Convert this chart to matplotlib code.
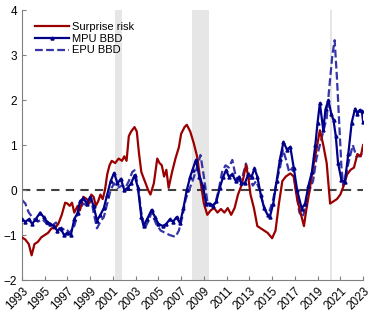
import numpy as np
import matplotlib.pyplot as plt

plt.rcParams["font.family"] = ["Liberation Sans", "DejaVu Sans"]

# ---------- data ----------
sr_t = [1993.0, 1993.3, 1993.6, 1993.85, 1994.1, 1994.4, 1994.7, 1995.0, 1995.3, 1995.6,
        1995.9, 1996.2, 1996.5, 1996.8, 1997.0, 1997.2, 1997.4, 1997.6, 1997.9, 1998.1,
        1998.4, 1998.7, 1998.9, 1999.1, 1999.3, 1999.5, 1999.7, 1999.9, 2000.1, 2000.3,
        2000.5, 2000.7, 2000.9, 2001.2, 2001.5, 2001.8, 2002.0, 2002.2, 2002.4, 2002.6,
        2002.9, 2003.1, 2003.3, 2003.5, 2003.8, 2004.1, 2004.3, 2004.6, 2004.9, 2005.1,
        2005.3, 2005.5, 2005.7, 2005.9, 2006.2, 2006.5, 2006.8, 2007.0, 2007.3, 2007.5,
        2007.8, 2008.1, 2008.4, 2008.7, 2009.0, 2009.3, 2009.6, 2009.9, 2010.2, 2010.5,
        2010.8, 2011.1, 2011.4, 2011.7, 2012.0, 2012.3, 2012.5, 2012.7, 2012.9, 2013.1,
        2013.4, 2013.7, 2014.0, 2014.3, 2014.6, 2015.0, 2015.3, 2015.6, 2015.9, 2016.2,
        2016.6, 2016.9, 2017.2, 2017.5, 2017.8, 2018.0, 2018.3, 2018.6, 2018.9, 2019.2,
        2019.5, 2019.8, 2020.1, 2020.4, 2020.7, 2021.0, 2021.3, 2021.6, 2021.9, 2022.2,
        2022.5, 2022.8, 2023.0]
sr_v = [-1.05, -1.1, -1.2, -1.45, -1.2, -1.15, -1.05, -1.0, -0.95, -0.85,
        -0.85, -0.75, -0.55, -0.28, -0.3, -0.35, -0.28, -0.5, -0.35, -0.45,
        -0.15, -0.2, -0.3, -0.1, -0.15, -0.35, -0.25, -0.1, -0.2, 0.0,
        0.35, 0.55, 0.65, 0.6, 0.7, 0.65, 0.75, 0.65, 1.2, 1.3,
        1.4, 1.3, 0.8, 0.4, 0.2, 0.0, -0.1, 0.15, 0.7, 0.6,
        0.55, 0.3, 0.45, 0.05, 0.4, 0.7, 0.95, 1.25, 1.4, 1.45,
        1.3, 1.05, 0.75, 0.2, -0.3, -0.55, -0.45, -0.4, -0.5, -0.42,
        -0.5, -0.4, -0.55, -0.4, -0.1, 0.1, 0.3, 0.56, 0.3, -0.1,
        -0.4, -0.8, -0.85, -0.9, -0.95, -1.07, -0.9, -0.3, 0.2, 0.3,
        0.37, 0.3, -0.2, -0.5, -0.8, -0.45, 0.0, 0.5, 0.9, 1.33,
        1.0, 0.6, -0.3, -0.25, -0.2, -0.1, 0.1, 0.35, 0.45, 0.5,
        0.8, 0.75, 1.0]

mpu_t = [1993.0, 1993.3, 1993.6, 1993.9, 1994.2, 1994.6, 1994.9, 1995.2, 1995.5, 1995.8,
         1996.1, 1996.4, 1996.7, 1997.0, 1997.3, 1997.6, 1997.9, 1998.1, 1998.4, 1998.7,
         1999.0, 1999.3, 1999.6, 1999.9, 2000.2, 2000.5, 2000.8, 2001.1, 2001.4, 2001.7,
         2002.0, 2002.3, 2002.6, 2002.9, 2003.2, 2003.5, 2003.7, 2004.0, 2004.4, 2004.7,
         2005.0, 2005.4, 2005.7, 2006.0, 2006.3, 2006.6, 2006.9, 2007.2, 2007.5, 2007.8,
         2008.0, 2008.3, 2008.6, 2008.9, 2009.2, 2009.5, 2009.8, 2010.1, 2010.4, 2010.7,
         2010.95, 2011.2, 2011.5, 2011.8, 2012.1, 2012.3, 2012.6, 2012.9, 2013.2, 2013.45,
         2013.7, 2014.0, 2014.3, 2014.6, 2014.8, 2015.1, 2015.4, 2015.7, 2016.0, 2016.3,
         2016.6, 2016.9, 2017.2, 2017.6, 2017.9, 2018.2, 2018.5, 2018.8, 2019.0, 2019.2,
         2019.5, 2019.7, 2019.95, 2020.2, 2020.4, 2020.6, 2020.8, 2021.1, 2021.4, 2021.7,
         2022.0, 2022.3, 2022.5, 2022.7, 2022.9, 2023.0]
mpu_v = [-0.65, -0.7, -0.65, -0.75, -0.65, -0.5, -0.6, -0.7, -0.75, -0.8,
         -0.9, -0.85, -1.0, -0.95, -1.0, -0.65, -0.5, -0.25, -0.18, -0.3,
         -0.15, -0.35, -0.68, -0.55, -0.4, -0.1, 0.2, 0.38, 0.15, 0.25,
         0.0, 0.05, 0.15, 0.33, 0.05, -0.6, -0.8, -0.65, -0.44, -0.6,
         -0.75, -0.8, -0.75, -0.65, -0.7, -0.6, -0.74, -0.4, 0.0, 0.3,
         0.45, 0.67, 0.3, 0.1, -0.3, -0.3, -0.35, -0.25, 0.05, 0.3,
         0.44, 0.3, 0.35, 0.2, 0.3, 0.15, 0.15, 0.35, 0.3, 0.48,
         0.3, -0.1, -0.4, -0.55, -0.6, -0.3, 0.2, 0.7, 1.07, 0.9,
         0.96, 0.5, 0.0, -0.41, -0.3, 0.1, 0.4, 1.0, 1.5, 1.93,
         1.33, 1.8, 2.0, 1.7, 1.55, 1.2, 0.6, 0.22, 0.19, 0.8,
         1.5, 1.81, 1.7, 1.78, 1.75, 1.52]

epu_t = [1993.0, 1993.3, 1993.6, 1994.0, 1994.4, 1994.8, 1995.2, 1995.6, 1996.0, 1996.4,
         1996.8, 1997.2, 1997.6, 1998.0, 1998.4, 1998.8, 1999.1, 1999.3, 1999.6, 1999.9,
         2000.2, 2000.5, 2000.8, 2001.1, 2001.4, 2001.8, 2002.1, 2002.4, 2002.7, 2002.9,
         2003.2, 2003.5, 2003.8, 2004.1, 2004.4, 2004.8, 2005.2, 2005.6, 2006.0, 2006.5,
         2006.8, 2007.1, 2007.4, 2007.7, 2008.0, 2008.4, 2008.7, 2009.0, 2009.3, 2009.6,
         2010.0, 2010.3, 2010.6, 2010.9, 2011.2, 2011.5, 2011.8, 2012.1, 2012.4, 2012.7,
         2013.0, 2013.3, 2013.6, 2013.9, 2014.2, 2014.5, 2014.8, 2015.1, 2015.4, 2015.7,
         2015.95, 2016.2, 2016.5, 2016.8, 2017.1, 2017.4, 2017.7, 2018.0, 2018.3, 2018.6,
         2018.9, 2019.2, 2019.5, 2019.8, 2020.0, 2020.3, 2020.5, 2020.7, 2020.9, 2021.1,
         2021.26, 2021.5, 2021.8, 2022.1, 2022.4, 2022.7, 2023.0]
epu_v = [-0.22, -0.3, -0.5, -0.63, -0.7, -0.65, -0.75, -0.8, -0.72, -0.9,
         -0.85, -0.95, -0.8, -0.45, -0.3, -0.35, -0.2, -0.5, -0.85, -0.7,
         -0.6, -0.3, 0.0, 0.15, 0.05, 0.1, 0.05, 0.2, 0.4, 0.44,
         0.1, -0.5, -0.85, -0.7, -0.5, -0.75, -0.9, -0.95, -1.0, -1.04,
         -0.9, -0.6, -0.2, 0.0, 0.2, 0.5, 0.78, 0.3, -0.25, -0.35,
         -0.3, 0.0, 0.4, 0.55, 0.5, 0.67, 0.3, 0.2, 0.3, 0.59,
         0.3, 0.1, 0.2, 0.0, -0.3, -0.5, -0.45, -0.2, 0.2, 0.5,
         0.9, 0.7, 0.4, 0.5, 0.0, -0.5, -0.6, -0.3, 0.0, 0.2,
         0.7, 1.0, 1.3, 1.6, 2.2, 3.0, 3.33, 2.5, 1.5, 0.5,
         0.1, 0.35, 0.7, 1.0, 0.75, 0.75, 0.85]

recessions = [(2001.17, 2001.83), (2007.92, 2009.42), (2020.08, 2020.25)]
years = list(range(1993, 2024, 2))

# ---------- plot ----------
fig = plt.figure(figsize=(3.72, 3.14), dpi=100)
ax = fig.add_axes([0.059, 0.108, 0.917, 0.86])

for a, b in recessions:
    ax.axvspan(a, b, color="#e6e6e6", lw=0, zorder=0)

ax.axhline(0, color="#404040", ls=(0, (4, 3)), lw=1.5, zorder=1)

ax.plot(sr_t, sr_v, color="#9b0000", lw=1.6, label="Surprise risk", zorder=3)
ax.plot(mpu_t, mpu_v, color="#00008b", lw=1.6, marker="^", ms=2.2,
        label="MPU BBD", zorder=4)
ax.plot(epu_t, epu_v, color="#3535a8", lw=1.6, ls=(0, (3.5, 1.5)),
        label="EPU BBD", zorder=2)

ax.set_xlim(1993, 2023)
ax.set_ylim(-2, 4)
ax.set_xticks(years)
ax.set_xticklabels([str(y) for y in years], rotation=45, ha="right",
                   rotation_mode="anchor", fontsize=8.5)
ax.set_yticks(range(-2, 5))
ax.tick_params(axis="y", labelsize=8.5)
ax.tick_params(direction="in", length=3, color="#808080", width=0.8)

for s in ["top", "right"]:
    ax.spines[s].set_visible(False)
for s in ["left", "bottom"]:
    ax.spines[s].set_color("#808080")
    ax.spines[s].set_linewidth(0.8)

ax.legend(loc="upper left", bbox_to_anchor=(0.02, 0.98), frameon=False,
          fontsize=8, handlelength=3.0, handletextpad=0.3,
          labelspacing=0.15, borderaxespad=0.2)

fig.savefig("out.png", dpi=100)
